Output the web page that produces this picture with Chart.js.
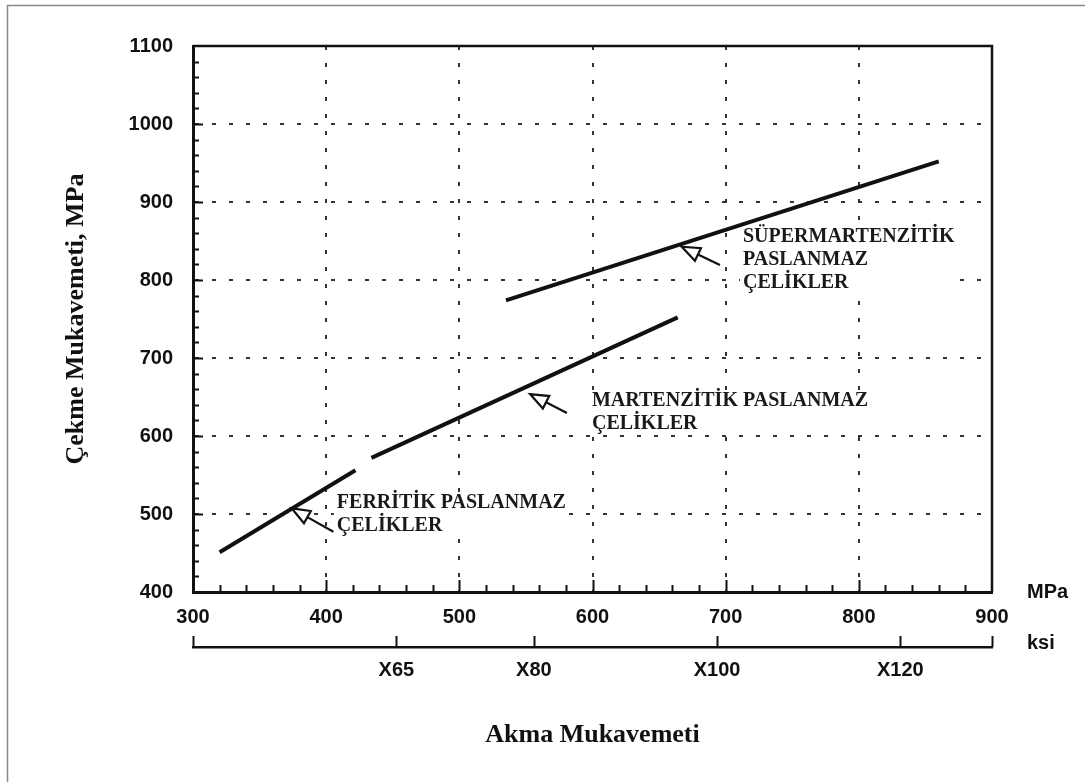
<!DOCTYPE html>
<html>
<head>
<meta charset="utf-8">
<script src="https://cdn.jsdelivr.net/npm/chart.js@4"></script>
<style>
  html, body { margin: 0; padding: 0; background: #fff; }
  canvas { display: block; }
</style>
</head>
<body>
<canvas id="strengthChart" width="1085" height="782"></canvas>
<script>
// yield (MPa) vs tensile (MPa) for each steel family, end points
const ferriticYield = [320, 422];
const ferriticTensile = [451, 556];
const martensiticYield = [434, 664];
const martensiticTensile = [572, 752];
const superYield = [535, 860];
const superTensile = [774, 952];

// pipe grades on the ksi axis
const ksiTicks = [65, 80, 100, 120];

const ferriticLabel = ['FERRİTİK PASLANMAZ', 'ÇELİKLER'];
const martensiticLabel = ['MARTENZİTİK PASLANMAZ', 'ÇELİKLER'];
const superLabel = ['SÜPERMARTENZİTİK', 'PASLANMAZ', 'ÇELİKLER'];

const ink = '#111';
const tickFont = { family: '"Liberation Sans", Arial, sans-serif', size: 20, weight: 'bold' };
const titleFont = { family: '"Liberation Serif", "Times New Roman", serif', size: 26, weight: 'bold' };
const noteFont = 'bold 20px "Liberation Serif", "Times New Roman", serif';

function toPoints(xs, ys) {
    return xs.map((v, i) => ({ x: v, y: ys[i] }));
}

function lineSet(label, xs, ys) {
    return {
        label: label,
        data: toPoints(xs, ys),
        showLine: true,
        pointRadius: 0,
        borderColor: ink,
        borderWidth: 4,
        borderCapStyle: 'butt'
    };
}

// note text positions and arrows (tip, tail) in data units
const notes = [
    { lines: ferriticLabel, at: [408, 513.7], tip: [374.1, 507.3], tail: [405.4, 477.3] },
    { lines: martensiticLabel, at: [599.6, 644.9], tip: [553.1, 653.8], tail: [580.8, 629.5] },
    { lines: superLabel, at: [713, 855.1], tip: [667, 842.7], tail: [695.7, 819.2] }
];
const noteLineHeight = 23;

function drawArrow(ctx, tx, ty, ex, ey) {
    const ang = Math.atan2(ey - ty, ex - tx);
    const hl = 18, hw = 7;
    const bx = tx + Math.cos(ang) * hl, by = ty + Math.sin(ang) * hl;
    const nx = -Math.sin(ang), ny = Math.cos(ang);
    ctx.save();
    ctx.lineWidth = 2.2;
    ctx.strokeStyle = ink;
    ctx.beginPath();
    ctx.moveTo(bx, by);
    ctx.lineTo(ex, ey);
    ctx.stroke();
    ctx.beginPath();
    ctx.moveTo(tx, ty);
    ctx.lineTo(bx + nx * hw, by + ny * hw);
    ctx.lineTo(bx - nx * hw, by - ny * hw);
    ctx.closePath();
    ctx.fillStyle = '#fff';
    ctx.fill();
    ctx.stroke();
    ctx.restore();
}

const decorations = {
    id: 'decorations',
    beforeDatasetsDraw(chart) {
        // blank out the grid behind the note texts
        const { ctx, scales: { x, y } } = chart;
        ctx.save();
        ctx.font = noteFont;
        ctx.fillStyle = '#fff';
        notes.forEach(n => {
            const px = x.getPixelForValue(n.at[0]);
            const py = y.getPixelForValue(n.at[1]);
            const w = Math.max(...n.lines.map(l => ctx.measureText(l).width));
            ctx.fillRect(px - 3, py - 10, w + 6, (n.lines.length - 1) * noteLineHeight + 21);
        });
        ctx.restore();
    },
    afterDraw(chart) {
        const { ctx, chartArea: a, scales: { x, y, ksi } } = chart;
        ctx.save();

        // page frame
        ctx.strokeStyle = '#8a8a8a';
        ctx.lineWidth = 1.5;
        ctx.beginPath();
        ctx.moveTo(7.5, 782);
        ctx.lineTo(7.5, 5.5);
        ctx.lineTo(1085, 5.5);
        ctx.stroke();

        // top and right side of the plot box
        ctx.strokeStyle = ink;
        ctx.lineWidth = 2.5;
        ctx.beginPath();
        ctx.moveTo(a.left, a.top);
        ctx.lineTo(a.right, a.top);
        ctx.lineTo(a.right, a.bottom);
        ctx.stroke();

        // inward ticks, every 20 MPa
        ctx.lineWidth = 2;
        ctx.beginPath();
        for (let v = 320; v < 900; v += 20) {
            const px = Math.round(x.getPixelForValue(v)) + 0.5;
            ctx.moveTo(px, a.bottom);
            ctx.lineTo(px, a.bottom - (v % 100 === 0 ? 12 : 7));
        }
        for (let v = 420; v < 1100; v += 20) {
            const py = Math.round(y.getPixelForValue(v)) + 0.5;
            ctx.moveTo(a.left, py);
            ctx.lineTo(a.left + (v % 100 === 0 ? 10 : 6), py);
        }
        // ksi axis ticks point up
        [ksi.min, ...ksiTicks, ksi.max].forEach(v => {
            const px = Math.round(ksi.getPixelForValue(v)) + 0.5;
            ctx.moveTo(px, ksi.top);
            ctx.lineTo(px, ksi.top - 11);
        });
        ctx.stroke();

        // unit labels
        ctx.fillStyle = ink;
        ctx.font = 'bold 20px "Liberation Sans", Arial, sans-serif';
        ctx.textAlign = 'left';
        ctx.textBaseline = 'middle';
        ctx.fillText('MPa', a.right + 35, a.bottom);
        ctx.fillText('ksi', a.right + 35, ksi.top - 4);

        // notes and arrows
        notes.forEach(n => {
            const px = x.getPixelForValue(n.at[0]);
            const py = y.getPixelForValue(n.at[1]);
            ctx.font = noteFont;
            ctx.fillStyle = '#1a1a1a';
            n.lines.forEach((l, i) => ctx.fillText(l, px, py + i * noteLineHeight));
            drawArrow(ctx,
                x.getPixelForValue(n.tip[0]), y.getPixelForValue(n.tip[1]),
                x.getPixelForValue(n.tail[0]), y.getPixelForValue(n.tail[1]));
        });
        ctx.restore();
    }
};

new Chart(document.getElementById('strengthChart'), {
    type: 'scatter',
    data: {
        datasets: [
            lineSet(ferriticLabel.join(' '), ferriticYield, ferriticTensile),
            lineSet(martensiticLabel.join(' '), martensiticYield, martensiticTensile),
            lineSet(superLabel.join(' '), superYield, superTensile)
        ]
    },
    options: {
        responsive: false,
        animation: false,
        devicePixelRatio: 1,
        layout: { padding: { left: 40, top: 46, right: 93, bottom: 20 } },
        scales: {
            x: {
                type: 'linear',
                position: 'bottom',
                weight: 0,
                min: 300,
                max: 900,
                ticks: {
                    stepSize: 100, padding: 13, autoSkip: false, maxRotation: 0, color: ink, font: tickFont,
                    callback: v => String(v)
                },
                grid: { drawTicks: false, color: '#333', lineWidth: 2 },
                border: { color: ink, width: 3, dash: [4, 13] },
                afterFit(scale) { scale.height = 55; }
            },
            ksi: {
                type: 'linear',
                position: 'bottom',
                weight: 1,
                min: 42.8,
                max: 130,
                afterBuildTicks(scale) {
                    scale.ticks = ksiTicks.map(v => ({ value: v }));
                },
                ticks: {
                    padding: 11, autoSkip: false, maxRotation: 0, color: ink, font: tickFont,
                    callback: v => 'X' + v
                },
                grid: { drawOnChartArea: false, drawTicks: false },
                border: { color: ink, width: 2.5 },
                title: {
                    display: true, text: 'Akma Mukavemeti', color: ink, font: titleFont,
                    padding: { top: 0, bottom: 11 }
                },
                afterFit(scale) { scale.height = 115; }
            },
            y: {
                type: 'linear',
                min: 400,
                max: 1100,
                ticks: {
                    stepSize: 100, padding: 20, color: ink, font: tickFont,
                    callback: v => String(v)
                },
                grid: { drawTicks: false, color: '#333', lineWidth: 2 },
                border: { color: ink, width: 3, dash: [4, 13] },
                title: {
                    display: true, text: 'Çekme Mukavemeti, MPa', color: ink, font: titleFont,
                    padding: { top: 21, bottom: 0 }
                },
                afterFit(scale) { scale.width = 153; }
            }
        },
        plugins: {
            legend: { display: false },
            tooltip: { enabled: false }
        }
    },
    plugins: [decorations]
});
</script>
</body>
</html>
